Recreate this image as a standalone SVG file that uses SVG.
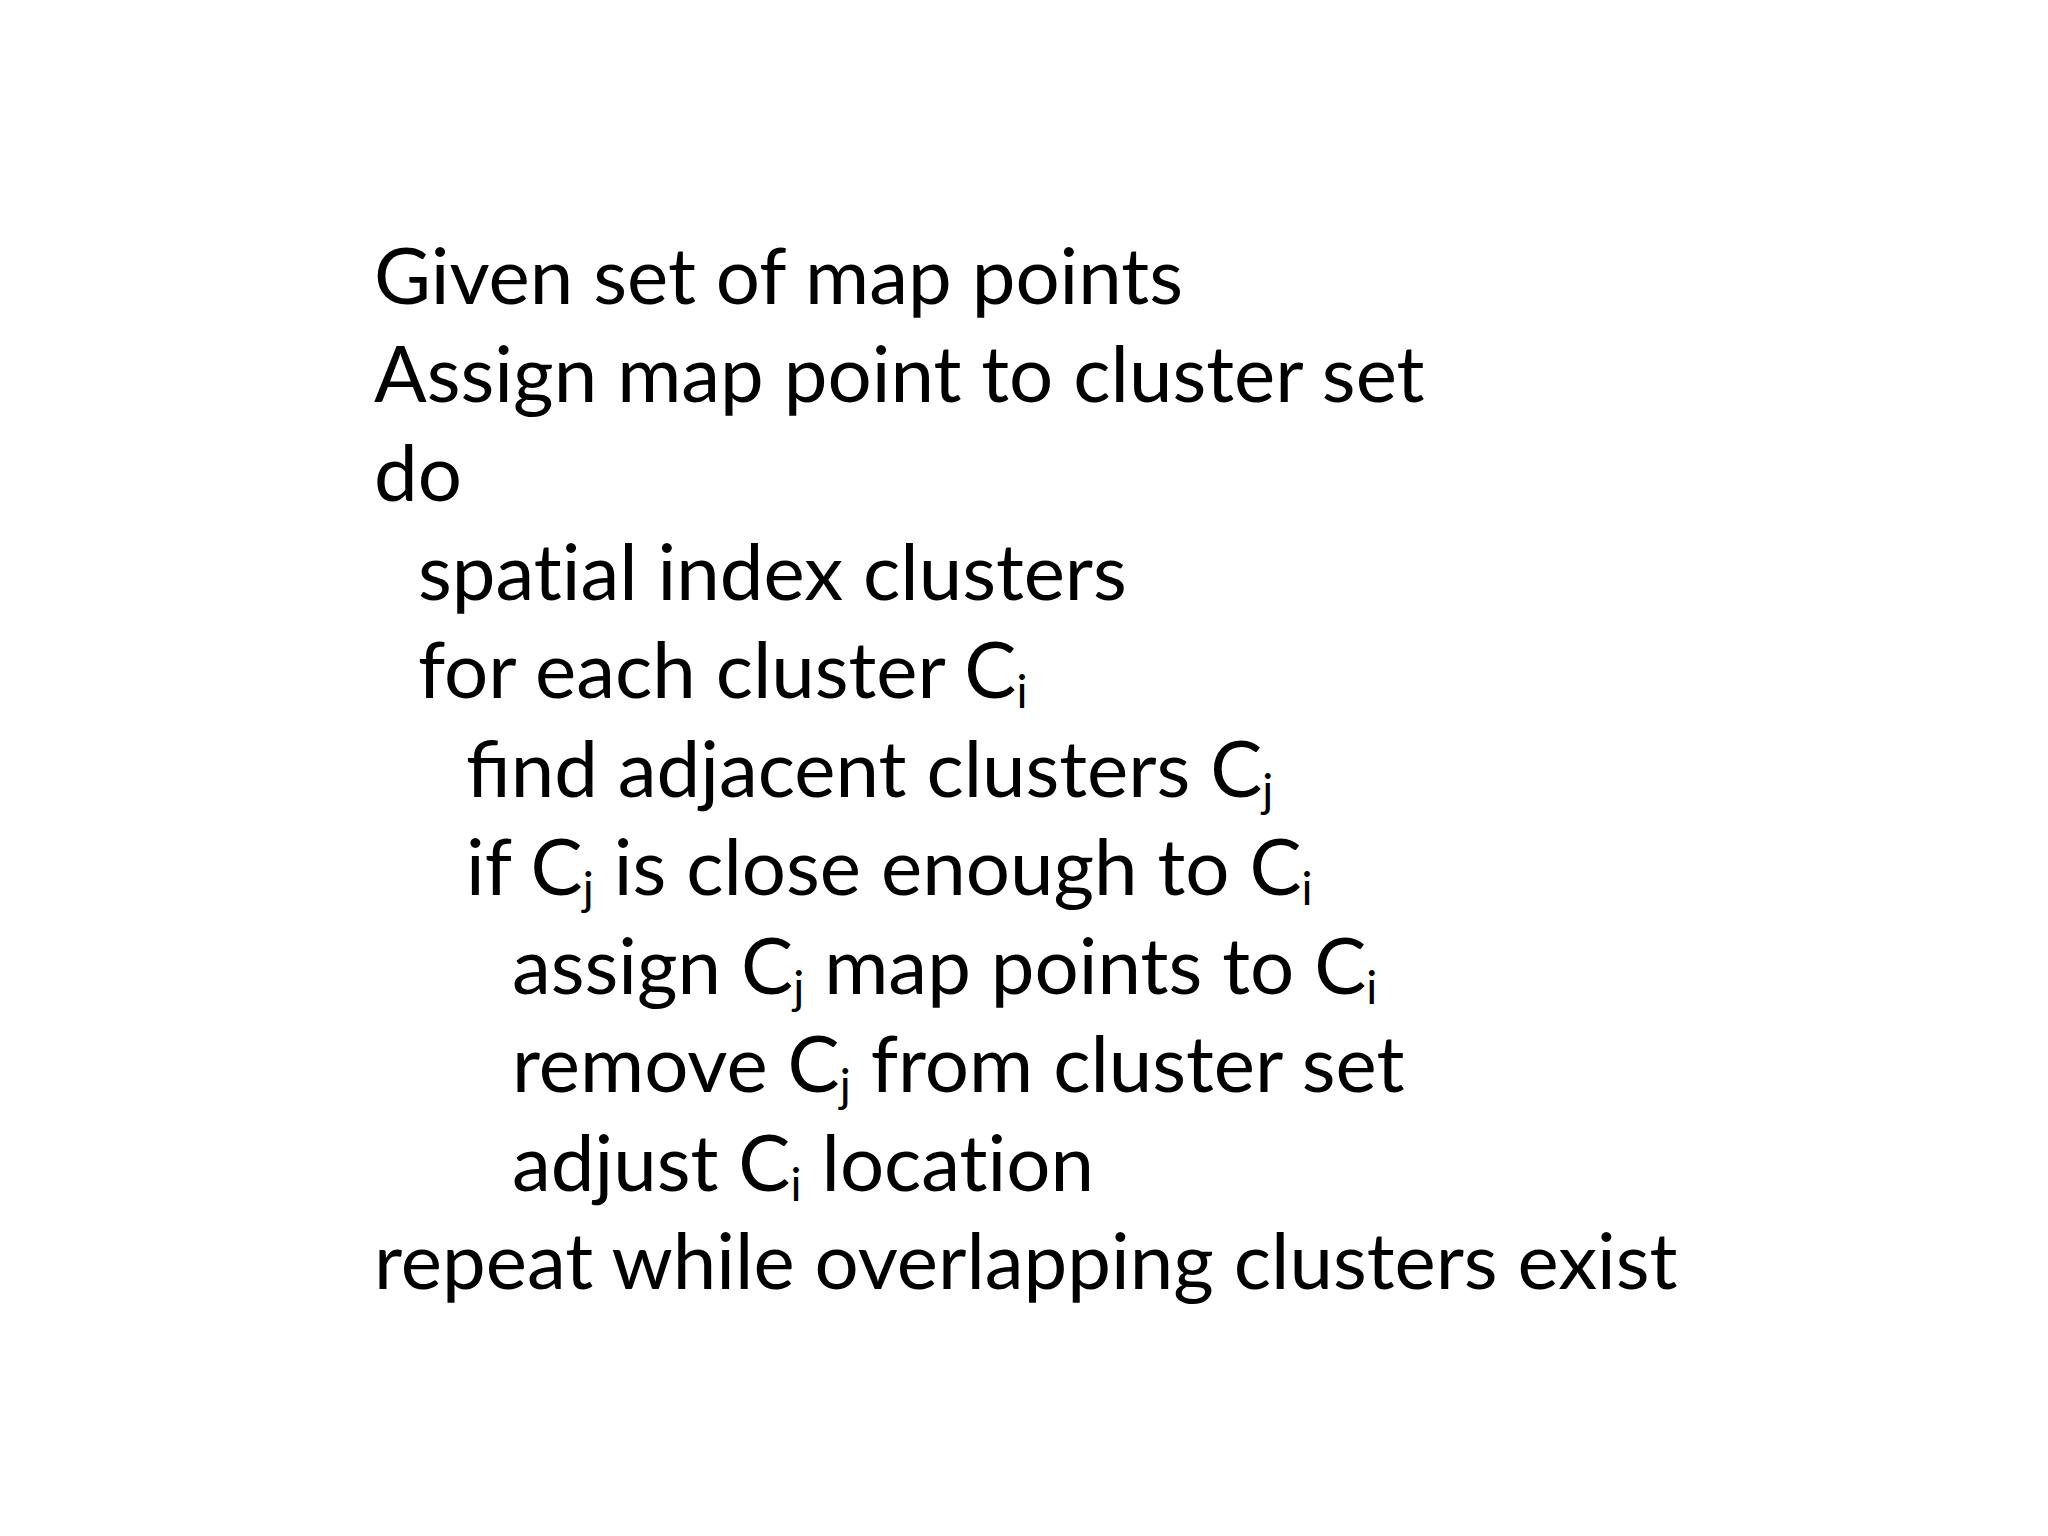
<svg xmlns="http://www.w3.org/2000/svg" width="2048" height="1536" viewBox="0 0 2048 1536">
<style>
text{font-family:Lato,"Open Sans",sans-serif;font-size:78px;fill:#000;font-variant-ligatures:no-common-ligatures}
.s{font-size:46px}
.lig{font-variant-ligatures:common-ligatures}
</style>
<rect width="2048" height="1536" fill="#fff"/>
<g id="code">
<text x="374" y="304">Given set of map points</text>
<text x="374" y="402">Assign map point to cluster set</text>
<text x="374" y="501">do</text>
<text x="418" y="600">spatial index clusters</text>
<text x="418" y="698">for each cluster C<tspan class="s" dy="10">i</tspan></text>
<text x="466" y="797" class="lig">find adjacent clusters C<tspan class="s" dy="10">j</tspan></text>
<text x="466" y="895">if C<tspan class="s" dy="10">j</tspan><tspan dy="-10"> is close enough to C</tspan><tspan class="s" dy="10">i</tspan></text>
<text x="512" y="994">assign C<tspan class="s" dy="10">j</tspan><tspan dy="-10"> map points to C</tspan><tspan class="s" dy="10">i</tspan></text>
<text x="512" y="1092">remove C<tspan class="s" dy="10">j</tspan><tspan dy="-10"> from cluster set</tspan></text>
<text x="512" y="1191">adjust C<tspan class="s" dy="10">i</tspan><tspan dy="-10"> location</tspan></text>
<text x="374" y="1289">repeat while overlapping clusters exist</text>
</g>
</svg>
